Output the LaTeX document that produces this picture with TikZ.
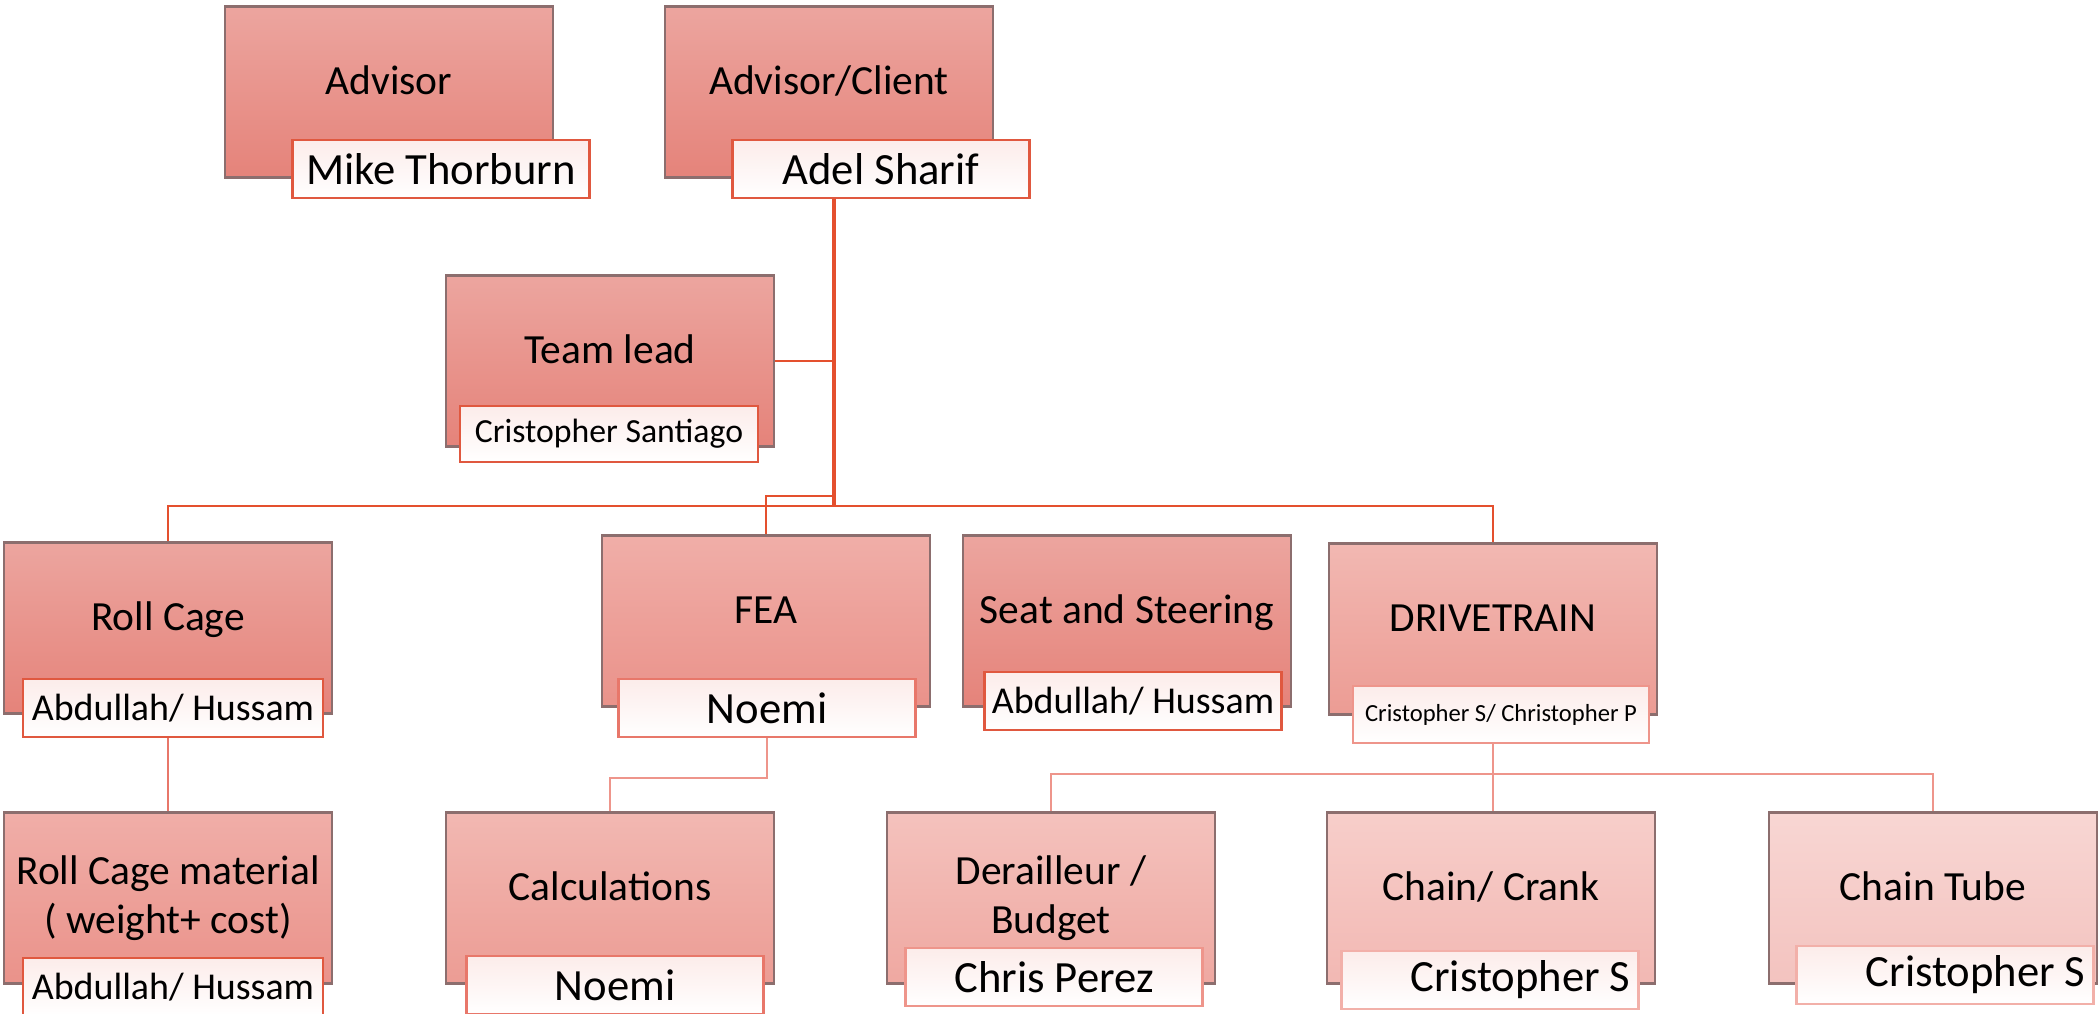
\documentclass[tikz,border=0pt]{standalone}
\usepackage{fontspec}
\setmainfont{Carlito}
\usepackage{xcolor}
\usepackage{tikz}
\usetikzlibrary{positioning,calc}
\definecolor{wire}{HTML}{E4502E}
\definecolor{frame}{HTML}{8C6E6E}
\definecolor{aTop}{HTML}{ECA59F}
\definecolor{aBot}{HTML}{E5837A}
\definecolor{bTop}{HTML}{F0AEA8}
\definecolor{bBot}{HTML}{EA928A}
\definecolor{cTop}{HTML}{F2B8B2}
\definecolor{cBot}{HTML}{EC9C94}
\definecolor{dTop}{HTML}{F4C2BD}
\definecolor{dBot}{HTML}{EFA8A1}
\definecolor{eTop}{HTML}{F7CECA}
\definecolor{eBot}{HTML}{F2B8B3}
\definecolor{fTop}{HTML}{F8D6D3}
\definecolor{fBot}{HTML}{F3C3BF}
\definecolor{subA}{HTML}{E0583F}
\definecolor{subB}{HTML}{E8776A}
\definecolor{subC}{HTML}{EE958B}
\definecolor{subD}{HTML}{F2B0A9}
\definecolor{pinkwash}{HTML}{FCECEA}

\begin{document}
\begin{tikzpicture}
\tikzset{box/.style={draw=frame,line width=0.6pt,minimum width=3.28cm,minimum height=1.71cm,inner sep=0pt,align=center,font=\fontsize{11.8}{14}\selectfont,text height=2.3mm,text depth=1.8mm}, tone/.style 2 args={top color=#1,bottom color=#2}, twoline/.style={text height=,text depth=}, who/.style={draw=#1,line width=0.6pt,top color=pinkwash,bottom color=white,minimum width=2.97cm,minimum height=0.575cm,inner sep=1pt,font=\fontsize{12.7}{14}\selectfont}, pair/.style={font=\fontsize{10.8}{12}\selectfont}, namer/.style={text width=2.81cm,align=flush right,inner xsep=0.08cm}, trunk/.style={draw=wire,line width=1.1pt}, branch/.style={draw=wire,line width=0.8pt}, thinwire/.style={draw=#1,line width=0.6pt}}
\useasboundingbox (0,0) rectangle (20.98,-10.14);
\node[box,tone={aTop}{aBot}] (adv) at (3.89,-0.92) {Advisor};
\node[who=subA] (mike) at (4.41,-1.69) {Mike Thorburn};
\node[box,tone={aTop}{aBot}] (client) at (8.29,-0.92) {Advisor/Client};
\node[who=subA] (adel) at (8.81,-1.69) {Adel Sharif};
\node[box,tone={aTop}{aBot}] (lead) at (6.10,-3.61) {Team lead};
\node[who=subA,minimum width=2.98cm,minimum height=0.56cm,font=\fontsize{9.6}{11}\selectfont] (santiago) at (6.09,-4.34) {Cristopher Santiago};
\node[box,tone={aTop}{aBot}] (rc) at (1.68,-6.28) {Roll Cage};
\node[who=subA,pair,minimum width=3.0cm] (rcsub) at (1.73,-7.08) {Abdullah/ Hussam};
\node[box,tone={bTop}{bBot}] (fea) at (7.66,-6.21) {FEA};
\node[who=subB] (feasub) at (7.67,-7.08) {Noemi};
\node[box,tone={aTop}{aBot}] (seat) at (11.27,-6.21) {Seat and Steering};
\node[who=subA,pair] (seatsub) at (11.33,-7.01) {Abdullah/ Hussam};
\node[box,tone={cTop}{cBot}] (drive) at (14.93,-6.29) {DRIVETRAIN};
\node[who=subC,minimum width=2.96cm,font=\fontsize{7}{8}\selectfont] (drivesub) at (15.01,-7.145) {Cristopher S/ Christopher P};
\node[box,twoline,tone={bTop}{bBot}] (rcm) at (1.68,-8.98) {Roll Cage material\\( weight+ cost)};
\node[who=subA,pair,minimum width=3.0cm] (rcmsub) at (1.73,-9.87) {Abdullah/ Hussam};
\node[box,tone={cTop}{cBot}] (calc) at (6.10,-8.98) {Calculations};
\node[who=subB] (calcsub) at (6.15,-9.85) {Noemi};
\node[box,twoline,tone={dTop}{dBot}] (derail) at (10.51,-8.98) {Derailleur /\\Budget};
\node[who=subC] (derailsub) at (10.54,-9.77) {Chris Perez};
\node[box,tone={eTop}{eBot}] (crank) at (14.91,-8.98) {Chain/ Crank};
\node[who=subD,namer] (cranksub) at (14.90,-9.80) {Cristopher S};
\node[box,tone={fTop}{fBot}] (tube) at (19.33,-8.98) {Chain Tube};
\node[who=subD,namer] (tubesub) at (19.45,-9.75) {Cristopher S};
\coordinate (hub) at (8.34,-5.06);
\draw[trunk] (adel.south -| hub) -- (hub);
\draw[branch] (lead.east) -- (lead.east -| hub);
\draw[branch] (rc.north) |- (hub) -| (drive.north);
\draw[branch] ([yshift=1mm]hub) -| (fea.north);
\draw[thinwire=subB] (rcsub.south -| rc.north) -- (rcm.north);
\draw[thinwire=subC] (feasub.south) -- ++(0,-0.4) -| (calc.north);
\draw[thinwire=subC] (drivesub.south -| drive.north) -- ++(0,-0.3) coordinate (dtbus) -| (derail.north);
\draw[thinwire=subC] (dtbus) -| (tube.north);
\draw[thinwire=subC] (dtbus) -- (dtbus |- crank.north);
\end{tikzpicture}
\end{document}
